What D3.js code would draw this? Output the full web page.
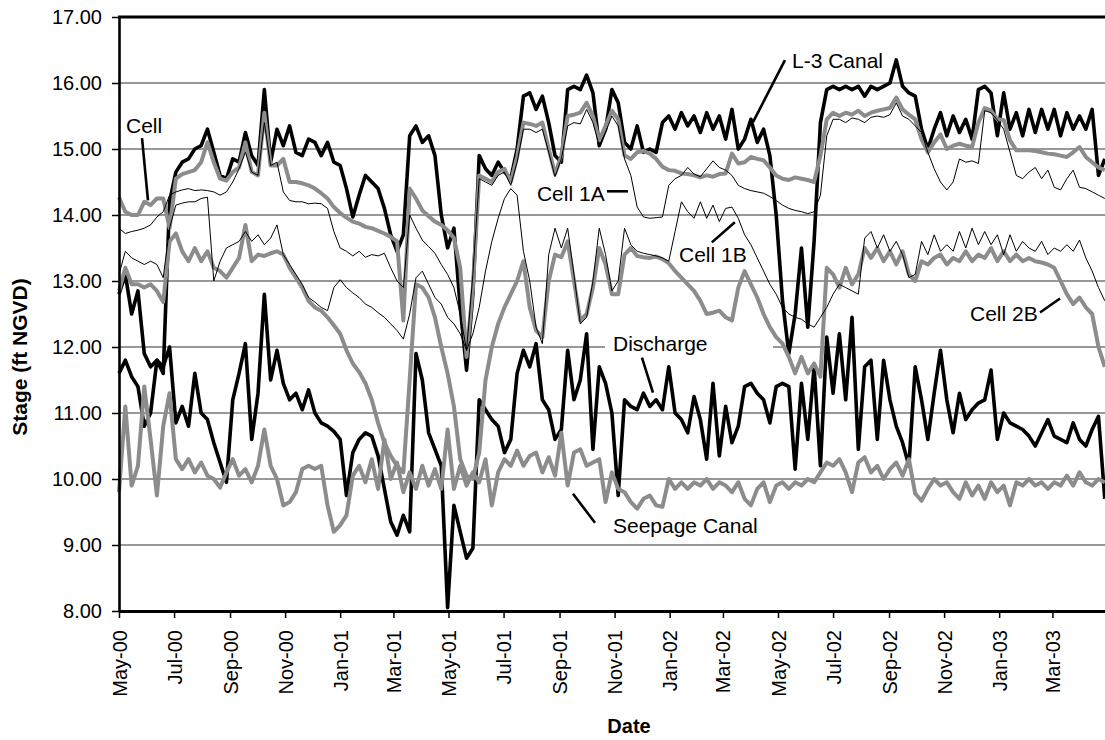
<!DOCTYPE html>
<html>
<head>
<meta charset="utf-8">
<script src="https://cdn.jsdelivr.net/npm/d3@7"></script>
<style>
  body { margin: 0; background: #fff; overflow: hidden; }
  svg { display: block; }
  text { font-family: "Liberation Sans", Arial, sans-serif; }
</style>
</head>
<body>
<svg id="chart" width="1105" height="740"></svg>
<script>
// weekly readings starting 1 May 2000
const weekStart = Date.UTC(2000, 4, 1);
const stepDays = 7;
const spanDays = 1095;

const yTicks = [8, 9, 10, 11, 12, 13, 14, 15, 16, 17];

const l3Canal = [
  12.8, 13.1, 12.5, 12.85, 11.9, 11.7, 11.8, 11.6, 14.2, 14.65,
  14.8, 14.85, 15.0, 15.05, 15.3, 14.95, 14.6, 14.55, 14.85, 14.8,
  15.25, 14.9, 14.75, 15.9, 14.8, 15.3, 15.05, 15.35, 14.95, 14.9,
  15.15, 15.1, 14.9, 15.1, 14.8, 14.75, 14.4, 13.97, 14.3, 14.6,
  14.5, 14.4, 14.1, 13.7, 13.45, 13.7, 15.2, 15.35, 15.1, 15.2,
  14.9, 14.0, 13.5, 13.8, 12.6, 11.65, 12.8, 14.9, 14.7, 14.6,
  14.8, 14.65, 14.55, 15.0, 15.8, 15.85, 15.6, 15.8, 15.4, 14.9,
  14.8, 15.9, 15.95, 15.9, 16.12, 15.85, 15.05, 15.3, 15.9, 15.7,
  15.1, 15.0, 15.35, 14.95, 15.0, 14.95, 15.4, 15.5, 15.3, 15.55,
  15.35, 15.5, 15.25, 15.55, 15.3, 15.5, 15.15, 15.6, 15.0, 15.15,
  15.45, 15.1, 15.3, 14.9, 14.0, 12.7, 11.9, 12.5, 13.5, 12.3,
  13.6, 15.4, 15.9, 15.95, 15.9, 15.95, 15.9, 15.95, 15.8, 15.95,
  15.9, 15.95, 16.0, 16.35, 15.95, 15.85, 15.8, 15.3, 15.0, 15.3,
  15.55, 15.2, 15.5, 15.25, 15.45, 15.15, 15.9, 15.95, 15.85, 15.2,
  15.85, 15.3, 15.55, 15.2, 15.6, 15.25, 15.6, 15.3, 15.6, 15.2,
  15.55, 15.3, 15.5, 15.3, 15.6, 14.6, 14.85
];

const cellUpper = [
  14.27, 14.05, 14.0, 14.0, 14.2, 14.15, 14.25, 14.25, 13.8, 14.55,
  14.62, 14.65, 14.68, 14.8, 15.1, 14.8, 14.55, 14.52, 14.65, 14.72,
  15.1, 14.65, 14.6, 15.55, 14.75, 14.75, 14.85, 14.5, 14.5, 14.48,
  14.45, 14.4, 14.33, 14.25, 14.12, 14.03, 13.96, 13.9, 13.87, 13.82,
  13.8, 13.76, 13.72, 13.67, 13.6, 12.4, 14.4, 14.25, 14.07, 13.98,
  13.9, 13.85, 13.77, 13.65, 13.2, 11.85, 12.9, 14.6, 14.55, 14.5,
  14.65, 14.7, 14.5, 14.88, 15.4, 15.38, 15.35, 15.4, 15.0, 14.62,
  14.9, 15.5, 15.52, 15.55, 15.7, 15.5, 15.13, 15.35, 15.58, 15.45,
  14.9, 14.85, 14.95, 14.97, 14.93, 14.85, 14.73, 14.68, 14.67, 14.63,
  14.62, 14.6, 14.57, 14.6, 14.58, 14.62, 14.63, 14.93, 14.78, 14.8,
  14.88, 14.85, 14.83, 14.72, 14.6, 14.55, 14.53, 14.57, 14.55, 14.53,
  14.5, 14.9, 15.45, 15.55, 15.5, 15.55, 15.52, 15.58, 15.5, 15.55,
  15.58, 15.6, 15.62, 15.78, 15.6, 15.52, 15.45, 15.15, 14.95, 15.1,
  15.22, 15.0, 15.05, 15.08, 15.05, 15.03, 15.4, 15.62, 15.58, 15.45,
  15.44, 15.13, 14.98, 14.98, 14.98, 14.97, 14.95, 14.93, 14.92, 14.9,
  14.88, 14.95, 15.03, 14.88, 14.8, 14.72, 14.68
];

const cell1A = [
  13.8, 13.72, 13.75, 13.77, 13.8, 13.85, 13.97, 14.05, 14.3, 14.35,
  14.38, 14.4, 14.37, 14.38, 14.37, 14.35, 14.3, 14.35, 14.5, 14.7,
  14.95, 14.65, 14.6, 15.4, 14.75, 14.8, 14.35, 14.22, 14.2, 14.2,
  14.17, 14.18, 14.17, 14.1, 13.75, 13.5, 13.45, 13.38, 13.45, 13.36,
  13.4, 13.38, 13.42, 13.2, 13.0, 12.9, 14.0, 13.8, 13.62, 13.52,
  13.42, 13.25, 13.1, 12.9, 12.5, 11.95, 13.1, 14.55, 14.5, 14.45,
  14.6, 14.65, 14.45, 14.8, 15.3, 15.3, 15.25, 15.3, 14.95, 14.58,
  14.85, 15.35, 15.4, 15.38, 15.6, 15.4, 15.05, 15.25, 15.5, 15.35,
  14.85, 14.6, 14.12, 13.97, 13.95, 13.96, 13.97, 14.45, 14.55, 14.6,
  14.72, 14.62, 14.58, 14.7, 14.82, 14.72, 14.68, 14.6, 14.45, 14.4,
  14.37, 14.35, 14.33, 14.28, 14.22, 14.15, 14.1, 14.07, 14.05, 14.02,
  14.05, 14.3, 15.2, 15.45, 15.45, 15.4, 15.47, 15.45, 15.4, 15.48,
  15.5, 15.48, 15.52, 15.7, 15.5, 15.45, 15.35, 15.25, 14.95, 14.7,
  14.5, 14.38, 14.5, 14.85, 14.8, 14.82, 14.78, 15.58, 15.55, 15.44,
  15.3, 14.95, 14.6, 14.55, 14.65, 14.72, 14.55, 14.68, 14.42, 14.38,
  14.55, 14.68, 14.42, 14.4, 14.35, 14.3, 14.25
];

const cell1B = [
  13.1, 13.45, 13.35, 13.3, 13.25, 13.3, 13.25, 13.05, 13.8, 14.15,
  14.18, 14.2, 14.2, 14.25, 14.27, 13.0, 13.3, 13.5, 13.55, 13.6,
  13.75, 13.6, 13.7, 13.55, 13.65, 13.85, 13.4, 13.25, 13.1, 12.95,
  12.75, 12.68, 12.6, 12.55, 12.9, 13.02, 12.9, 12.82, 12.75, 12.65,
  12.6, 12.52, 12.45, 12.35, 12.25, 12.12, 12.5, 13.05, 13.15, 12.95,
  12.75, 12.65, 12.45, 12.35, 12.2, 11.95, 12.2, 12.6, 13.15, 13.6,
  13.95, 14.25, 14.4, 14.3, 13.45, 13.0, 12.3, 12.05, 13.4, 13.8,
  13.5, 13.8, 13.1, 12.35, 12.45, 13.0, 13.8, 13.4, 12.85, 13.0,
  13.8, 13.55, 13.45, 13.42, 13.4, 13.38, 13.35, 13.3, 13.75, 14.2,
  14.05, 13.95, 14.2, 13.95, 14.15, 13.9, 14.1, 14.12, 13.95, 13.7,
  13.55, 13.35, 13.15, 12.95, 12.8, 12.6, 12.5, 12.45, 12.42, 12.35,
  12.3, 12.45, 12.6, 12.8, 12.95, 12.9, 12.85, 12.8, 13.65, 13.75,
  13.5, 13.7, 13.45, 13.6, 13.4, 13.05, 13.1, 13.6, 13.4, 13.7,
  13.45, 13.55, 13.45, 13.75, 13.5, 13.8, 13.55, 13.75, 13.55, 13.7,
  13.4, 13.7, 13.45, 13.6, 13.5, 13.45, 13.6, 13.4, 13.5, 13.45,
  13.55, 13.45, 13.62, 13.35, 13.15, 12.9, 12.7
];

const cell2B = [
  12.85, 13.2, 12.95, 12.95, 12.9, 12.95, 12.85, 12.68, 13.6, 13.72,
  13.45, 13.3, 13.5, 13.3, 13.45, 13.2, 13.15, 13.05, 13.2, 13.35,
  13.85, 13.3, 13.4, 13.38, 13.42, 13.45, 13.4, 13.2, 13.05, 12.9,
  12.7, 12.6, 12.55, 12.45, 12.33, 12.2, 11.95, 11.75, 11.62, 11.45,
  11.2, 10.85, 10.55, 10.35, 10.2, 10.1, 11.5, 12.95, 12.9, 12.75,
  12.45, 12.0, 11.6, 11.1, 10.3, 10.05, 10.0, 10.4, 11.5, 12.0,
  12.35, 12.6, 12.8, 13.0, 13.3, 12.6, 12.25, 12.15, 13.0, 13.4,
  13.36, 13.6, 13.0, 12.4, 12.5, 12.9, 13.5, 13.25, 12.8, 12.8,
  13.4, 13.5, 13.38, 13.36, 13.35, 13.37, 13.33, 13.27, 13.15, 13.05,
  12.95, 12.85, 12.7, 12.5, 12.52, 12.55, 12.45, 12.4, 12.9, 13.15,
  12.95, 12.75, 12.5, 12.3, 12.15, 12.05, 11.85, 11.6, 11.85, 11.6,
  11.75, 11.55, 13.2, 13.1, 12.9, 13.2, 12.95, 13.1, 13.5, 13.35,
  13.5, 13.3, 13.45, 13.25, 13.45, 13.1, 13.0, 13.3, 13.25, 13.35,
  13.4, 13.25, 13.35, 13.3, 13.45, 13.3, 13.4, 13.35, 13.5, 13.3,
  13.45, 13.3, 13.4, 13.3, 13.35, 13.3, 13.28, 13.25, 13.2, 13.0,
  12.8, 12.65, 12.75, 12.6, 12.5, 12.0, 11.7
];

const discharge = [
  11.6, 11.8, 11.55, 11.4, 10.8, 11.0, 11.8, 11.7, 12.0, 10.85,
  11.1, 10.8, 11.6, 11.0, 10.9, 10.55, 10.25, 9.95, 11.2, 11.6,
  12.05, 10.6, 11.3, 12.8, 11.5, 11.95, 11.45, 11.2, 11.3, 11.05,
  11.35, 11.0, 10.85, 10.8, 10.72, 10.6, 9.75, 10.4, 10.6, 10.7,
  10.65, 10.35, 9.85, 9.35, 9.15, 9.45, 9.2, 11.9, 11.5, 10.7,
  10.45, 10.2, 8.05, 9.6, 9.2, 8.8, 8.95, 11.2, 11.05, 10.9,
  10.8, 10.4, 10.6, 11.6, 11.95, 11.7, 12.05, 11.2, 11.05, 10.6,
  10.75, 11.95, 11.2, 11.5, 12.2, 10.45, 11.7, 11.45, 11.0, 9.75,
  11.2, 11.1, 11.05, 11.3, 11.1, 11.2, 11.05, 11.7, 11.0, 10.9,
  10.7, 11.25, 10.9, 10.3, 11.45, 10.35, 11.1, 10.55, 10.8, 11.4,
  11.45, 11.3, 11.2, 10.85, 11.4, 11.45, 11.4, 10.15, 11.45, 10.6,
  11.7, 10.2, 12.15, 11.3, 12.2, 11.2, 12.45, 10.45, 11.7, 11.8,
  10.6, 11.8, 11.2, 10.8, 10.55, 10.2, 11.7, 11.2, 10.6, 11.3,
  11.95, 11.2, 10.7, 11.3, 10.9, 11.05, 11.15, 11.2, 11.65, 10.6,
  11.0, 10.85, 10.8, 10.75, 10.65, 10.5, 10.7, 10.9, 10.65, 10.6,
  10.55, 10.85, 10.6, 10.5, 10.75, 10.95, 9.7
];

const seepageCanal = [
  9.8, 11.1, 9.9, 10.2, 11.4, 10.6, 9.75, 10.8, 11.3, 10.3,
  10.15, 10.3, 10.1, 10.25, 10.05, 10.0, 9.87, 10.1, 10.3, 10.05,
  10.15, 9.95, 10.2, 10.75, 10.2, 10.0, 9.6, 9.65, 9.8, 10.15,
  10.2, 10.15, 10.2, 9.6, 9.2, 9.3, 9.45, 10.05, 10.2, 9.95,
  10.3, 9.85, 10.6, 10.0, 10.25, 9.8, 10.1, 9.85, 10.2, 9.9,
  10.15, 9.85, 10.75, 9.85, 10.2, 9.9, 10.1, 9.95, 10.3, 9.6,
  10.1, 10.3, 10.2, 10.43, 10.2, 10.35, 10.4, 10.1, 10.33, 10.05,
  10.7, 9.9, 10.4, 10.45, 10.2, 10.25, 10.3, 9.65, 10.1, 9.85,
  9.8, 9.65, 9.55, 9.7, 9.75, 9.6, 9.58, 10.0, 9.85, 9.95,
  9.85, 9.95, 9.9, 10.0, 9.85, 9.95, 9.9, 9.8, 9.95, 9.7,
  9.6, 9.85, 9.95, 9.65, 9.9, 9.95, 9.85, 9.95, 9.9, 10.0,
  9.95, 10.1, 10.25, 10.2, 10.3, 10.1, 9.8, 10.25, 10.33, 10.1,
  10.2, 10.0, 10.15, 10.25, 10.05, 10.3, 9.78, 9.67, 9.85, 10.0,
  9.9, 9.95, 9.8, 9.7, 9.95, 9.75, 9.9, 9.7, 9.95, 9.8,
  9.9, 9.6, 9.95, 9.9, 10.0, 9.9, 9.95, 9.85, 9.95, 9.9,
  10.05, 9.9, 10.1, 9.95, 9.9, 10.0, 9.95
];

// label text, anchor (days from start, stage) and pointer ends
const labelText = ["Cell", "L-3 Canal", "Cell 1A", "Cell 1B", "Cell 2B", "Discharge", "Seepage Canal"];
const labelDay = [7.75, 745.5, 463, 620.3, 942.7, 547.2, 547.2];
const labelStage = [15.24, 16.22, 14.215, 13.286, 12.40, 11.946, 9.184];
const pointerFrom = [[25.5, 15.164], [737.7, 16.347], [540.6, 14.359], [656.7, 13.585], [1020.2, 12.523], [579.3, 11.84], [502.9, 9.776]];
const pointerTo = [[32.1, 14.223], [702.3, 15.406], [563.8, 14.359], [682.2, 13.889], [1042.4, 12.735], [591.5, 11.309], [527.3, 9.336]];

const svg = d3.select("#chart");
const W = 1105, H = 740;
const plot = {left: 119, top: 17, right: 1107.5, bottom: 611};

const t0 = new Date(weekStart);
const dayAt = d => d3.utcDay.offset(t0, Math.floor(d)).getTime() + (d % 1) * 864e5;
const x = d3.scaleUtc().domain([t0, new Date(dayAt(spanDays))]).range([plot.left, plot.right]);
const y = d3.scaleLinear().domain([8, 17]).range([plot.bottom, plot.top]);
const dates = l3Canal.map((_, i) => d3.utcDay.offset(t0, i * stepDays));
const xTickDates = d3.utcMonth.every(2).range(t0, new Date(Date.UTC(2003, 3, 1)));

svg.append("rect").attr("width", W).attr("height", H).attr("fill", "#fff");

// grid
svg.append("g")
  .selectAll("line")
  .data(yTicks.filter(v => v > 8 && v < 17))
  .join("line")
  .attr("x1", plot.left).attr("x2", W)
  .attr("y1", d => y(d)).attr("y2", d => y(d))
  .attr("stroke", "#333").attr("stroke-width", 1.1);

// white box behind "Discharge"
svg.append("rect")
  .attr("x", x(dayAt(538.4))).attr("width", x(dayAt(724.5)) - x(dayAt(538.4)))
  .attr("y", y(12.2)).attr("height", y(11.9) - y(12.2))
  .attr("fill", "#fff");

const line = d3.line().x((d, i) => x(dates[i])).y(d => y(d));

const series = [
  {values: l3Canal, color: "#000", width: 3.6},
  {values: discharge, color: "#000", width: 3.6},
  {values: seepageCanal, color: "#8c8c8c", width: 4},
  {values: cell2B, color: "#8c8c8c", width: 4},
  {values: cellUpper, color: "#8c8c8c", width: 4},
  {values: cell1B, color: "#000", width: 1},
  {values: cell1A, color: "#000", width: 1}
];

svg.append("g")
  .selectAll("path")
  .data(series)
  .join("path")
  .attr("d", s => line(s.values))
  .attr("fill", "none")
  .attr("stroke", s => s.color)
  .attr("stroke-width", s => s.width)
  .attr("stroke-linejoin", "round");

// axes
const gy = svg.append("g")
  .attr("transform", `translate(${plot.left},0)`)
  .attr("font-family", "Liberation Sans, Arial, sans-serif")
  .call(d3.axisLeft(y).tickValues(yTicks).tickFormat(d3.format(".2f")).tickSize(7).tickSizeOuter(0));
gy.attr("font-size", 20);
gy.select(".domain").attr("stroke-width", 2.6);
gy.selectAll(".tick line").attr("stroke-width", 1.5);
gy.selectAll(".tick text").attr("x", -17).attr("fill", "#000");

const gx = svg.append("g")
  .attr("transform", `translate(0,${plot.bottom})`)
  .attr("font-family", "Liberation Sans, Arial, sans-serif")
  .call(d3.axisBottom(x).tickValues(xTickDates).tickFormat(d3.utcFormat("%b-%y")).tickSize(7).tickSizeOuter(0));
gx.attr("font-size", 20);
gx.select(".domain").attr("stroke-width", 3);
gx.selectAll(".tick line").attr("stroke-width", 1.5);
gx.selectAll(".tick text")
  .attr("transform", "rotate(-90)")
  .attr("text-anchor", "end")
  .attr("x", -19).attr("y", 0).attr("dy", "0.35em")
  .attr("fill", "#000");

// top border
svg.append("line")
  .attr("x1", plot.left - 1).attr("x2", W)
  .attr("y1", plot.top).attr("y2", plot.top)
  .attr("stroke", "#000").attr("stroke-width", 3);

// axis titles
svg.append("text")
  .attr("transform", "translate(27,357) rotate(-90)")
  .attr("text-anchor", "middle")
  .attr("font-weight", "bold").attr("font-size", 21)
  .text("Stage (ft NGVD)");

svg.append("text")
  .attr("x", 629).attr("y", 733)
  .attr("text-anchor", "middle")
  .attr("font-weight", "bold").attr("font-size", 20)
  .text("Date");

// labels and pointers
const ann = svg.append("g");
ann.selectAll("line")
  .data(pointerFrom)
  .join("line")
  .attr("x1", d => x(dayAt(d[0]))).attr("y1", d => y(d[1]))
  .attr("x2", (d, i) => x(dayAt(pointerTo[i][0]))).attr("y2", (d, i) => y(pointerTo[i][1]))
  .attr("stroke", "#000").attr("stroke-width", 2.6);

ann.selectAll("text")
  .data(labelText)
  .join("text")
  .attr("x", (d, i) => x(dayAt(labelDay[i])))
  .attr("y", (d, i) => y(labelStage[i]))
  .attr("font-size", 21)
  .attr("fill", "#000")
  .text(d => d);
</script>
</body>
</html>
